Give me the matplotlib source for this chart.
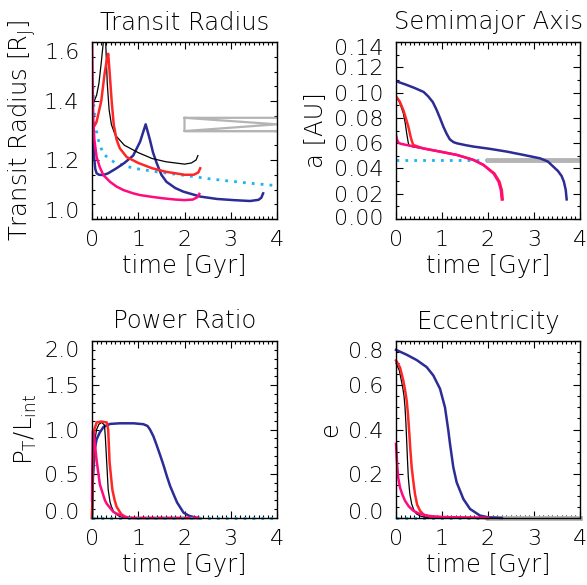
import matplotlib
matplotlib.use("Agg")
import matplotlib.pyplot as plt
from matplotlib.ticker import MultipleLocator
from matplotlib.transforms import ScaledTranslation

BLACK = "black"
RED = "#ff2626"
BLUE = "#2c2c96"
PINK = "#ff0a80"
CYAN = "#1cb4f0"
GRAY = "#b4b4b4"

# ---- Transit radius [R_J] ----
t_rad_black = [0.0, 0.05, 0.1, 0.15, 0.2, 0.245, 0.27, 0.296, 0.33, 0.37, 0.42, 0.5, 0.7, 1.0,
               1.3, 1.6, 2.0, 2.15, 2.25, 2.29]
rad_black = [1.38, 1.40, 1.42, 1.46, 1.53, 1.60, 1.66, 1.60, 1.46, 1.37, 1.32, 1.285, 1.25, 1.225,
             1.205, 1.194, 1.186, 1.19, 1.20, 1.215]
t_rad_red = [0.0, 0.05, 0.1, 0.2, 0.27, 0.32, 0.35, 0.38, 0.425, 0.47, 0.53, 0.6, 0.75, 1.0,
             1.3, 1.6, 2.0, 2.2, 2.3, 2.34]
rad_red = [1.31, 1.315, 1.33, 1.40, 1.49, 1.54, 1.56, 1.50, 1.40, 1.32, 1.27, 1.24, 1.21, 1.19,
           1.172, 1.16, 1.15, 1.15, 1.158, 1.172]
t_rad_blue = [0.0, 0.02, 0.04, 0.07, 0.1, 0.15, 0.245, 0.35, 0.53, 0.7, 0.89, 1.04, 1.16, 1.25,
              1.32, 1.4, 1.5, 1.61, 1.8, 1.97, 2.34, 2.7, 3.06, 3.42, 3.6, 3.66, 3.70]
rad_blue = [1.36, 1.30, 1.22, 1.17, 1.155, 1.15, 1.149, 1.155, 1.172, 1.19, 1.215, 1.262, 1.321, 1.27,
            1.225, 1.189, 1.15, 1.126, 1.105, 1.093, 1.076, 1.068, 1.064, 1.061, 1.065, 1.072, 1.087]
t_rad_pink = [0.0, 0.015, 0.03, 0.05, 0.1, 0.17, 0.245, 0.39, 0.53, 0.68, 0.89, 1.04, 1.3, 1.54,
              1.8, 2.0, 2.18, 2.28, 2.32]
rad_pink = [1.62, 1.45, 1.33, 1.27, 1.21, 1.175, 1.149, 1.126, 1.11, 1.098, 1.087, 1.081, 1.075, 1.07,
            1.066, 1.064, 1.066, 1.074, 1.085]
t_rad_cyan = [0.02, 0.04, 0.07, 0.1, 0.15, 0.245, 0.5, 0.9, 1.4, 2.0, 2.5, 3.0, 3.5, 4.0]
rad_cyan = [1.45, 1.38, 1.33, 1.296, 1.26, 1.22, 1.19, 1.172, 1.16, 1.148, 1.137, 1.128, 1.12, 1.113]
t_rad_gray = [4.0, 2.0, 2.0, 4.0, 2.0, 4.0, 2.0]
rad_gray = [1.343, 1.343, 1.298, 1.298, 1.298, 1.321, 1.343]

# ---- Semimajor axis [AU] ----
t_a_blue = [0.0, 0.2, 0.4, 0.6, 0.7, 0.8, 0.884, 0.96, 1.03, 1.1, 1.17, 1.25, 1.32, 1.5, 1.68,
            2.04, 2.41, 2.77, 3.13, 3.3, 3.42, 3.52, 3.6, 3.65, 3.69, 3.71]
a_blue = [0.109, 0.1065, 0.1037, 0.1005, 0.097, 0.0925, 0.0862, 0.0795, 0.073, 0.0675, 0.063,
          0.0608, 0.0599, 0.0585, 0.0573, 0.0555, 0.0533, 0.0507, 0.048, 0.0455, 0.0414, 0.038,
          0.034, 0.0295, 0.0229, 0.0155]
t_a_black = [0.0, 0.08, 0.159, 0.2, 0.232, 0.268, 0.29, 0.4, 0.6, 0.96, 1.32, 1.68, 1.9, 2.12,
             2.23, 2.28, 2.30]
a_black = [0.097, 0.092, 0.0836, 0.076, 0.0678, 0.060, 0.0578, 0.0568, 0.0557, 0.0533, 0.0507,
           0.0468, 0.0428, 0.036, 0.0295, 0.0229, 0.0155]
t_a_red = [0.0, 0.08, 0.159, 0.22, 0.268, 0.319, 0.35, 0.377, 0.42, 0.6, 0.96, 1.32, 1.68, 1.9,
           2.14, 2.25, 2.30, 2.32]
a_red = [0.097, 0.093, 0.0862, 0.079, 0.073, 0.0649, 0.061, 0.0585, 0.058, 0.0557, 0.0533, 0.0507,
         0.0468, 0.0428, 0.036, 0.0295, 0.0229, 0.0155]
t_a_pink = [0.0, 0.02, 0.05, 0.1, 0.232, 0.594, 0.956, 1.32, 1.68, 1.9, 2.12, 2.23, 2.28, 2.30]
a_pink = [0.0665, 0.063, 0.0605, 0.0595, 0.0585, 0.0559, 0.0533, 0.0507, 0.0468, 0.0428, 0.036,
          0.0295, 0.0229, 0.0155]
t_a_cyan = [0.0, 2.0]
a_cyan = [0.0467, 0.0467]
t_a_gray = [2.0, 4.0]
a_gray = [0.0467, 0.0467]

# ---- Power ratio P_T / L_int ----
t_p_blue = [0.0, 0.02, 0.06, 0.1, 0.17, 0.25, 0.39, 0.6, 0.9, 1.11, 1.2, 1.254, 1.33, 1.4, 1.48,
            1.55, 1.62, 1.69, 1.77, 1.84, 1.98, 2.1, 2.2, 2.3]
p_blue = [0.0, 0.45, 0.78, 0.89, 0.968, 1.03, 1.063, 1.07, 1.07, 1.06, 1.04, 1.0, 0.92, 0.82, 0.70,
          0.59, 0.47, 0.36, 0.26, 0.175, 0.06, 0.025, 0.01, 0.0]
t_p_black = [0.0, 0.02, 0.05, 0.1, 0.15, 0.21, 0.27, 0.29, 0.318, 0.35, 0.39, 0.42, 0.47, 0.53,
             0.62, 0.75, 2.3]
p_black = [0.0, 0.5, 0.85, 1.0, 1.06, 1.08, 1.05, 0.9, 0.63, 0.32, 0.18, 0.13, 0.07, 0.04, 0.01, 0.0, 0.0]
t_p_red = [0.0, 0.02, 0.05, 0.1, 0.2, 0.32, 0.35, 0.38, 0.44, 0.49, 0.53, 0.6, 0.64, 0.72, 0.82, 2.32]
p_red = [0.0, 0.6, 1.0, 1.08, 1.09, 1.08, 1.0, 0.63, 0.32, 0.2, 0.13, 0.07, 0.04, 0.015, 0.0, 0.0]
t_p_pink = [0.0, 0.02, 0.04, 0.06, 0.1, 0.17, 0.28, 0.32, 0.46, 0.53, 0.71, 0.9, 2.3]
p_pink = [0.2, 0.98, 0.93, 0.85, 0.65, 0.38, 0.2, 0.16, 0.07, 0.05, 0.01, 0.0, 0.0]
t_p_cyan = [0.0, 4.0]
p_cyan = [0.0, 0.0]

# ---- Eccentricity ----
t_e_blue = [0.0, 0.232, 0.449, 0.667, 0.812, 0.957, 1.065, 1.138, 1.174, 1.246, 1.319, 1.464,
            1.609, 1.826, 2.007, 2.3]
e_blue = [0.76, 0.738, 0.714, 0.682, 0.644, 0.584, 0.50, 0.395, 0.335, 0.229, 0.161, 0.086,
          0.041, 0.011, 0.003, 0.0]
t_e_red = [0.0, 0.087, 0.159, 0.2, 0.232, 0.26, 0.29, 0.315, 0.341, 0.38, 0.413, 0.46, 0.522, 0.6,
           0.739, 2.0]
e_red = [0.712, 0.681, 0.621, 0.575, 0.531, 0.47, 0.38, 0.30, 0.229, 0.16, 0.108, 0.06, 0.033,
         0.015, 0.006, 0.0]
t_e_black = [0.0, 0.072, 0.145, 0.175, 0.196, 0.215, 0.232, 0.25, 0.268, 0.3, 0.341, 0.4, 0.449,
             0.55, 0.667, 2.0]
e_black = [0.70, 0.667, 0.591, 0.55, 0.50, 0.43, 0.35, 0.26, 0.183, 0.11, 0.063, 0.03, 0.018,
           0.007, 0.003, 0.0]
t_e_pink = [0.0, 0.015, 0.029, 0.05, 0.087, 0.14, 0.196, 0.28, 0.377, 0.5, 0.667, 0.85, 1.03, 2.0]
e_pink = [0.335, 0.28, 0.229, 0.18, 0.138, 0.105, 0.078, 0.052, 0.033, 0.02, 0.011, 0.006, 0.003, 0.0]
t_e_cyan = [0.0, 4.0]
e_cyan = [0.0, 0.0]
t_e_gray = [2.0, 4.0]
e_gray = [0.0, 0.0]

plt.rcParams["font.family"] = "DejaVu Sans"
plt.rcParams["font.weight"] = "light"
plt.rcParams["font.size"] = 16
plt.rcParams["axes.titlesize"] = 17.5
plt.rcParams["axes.labelsize"] = 17.5
plt.rcParams["axes.titleweight"] = "light"
plt.rcParams["axes.labelweight"] = "light"
plt.rcParams["mathtext.default"] = "regular"

fig = plt.figure(figsize=(5.87, 5.85), dpi=100)
W, H = 587.0, 585.0


def make_axes(left, top, right, bottom):
    return fig.add_axes([left / W, 1 - bottom / H, (right - left) / W, (bottom - top) / H])


def style(ax, title, ylabel, ylim, ymajor, yminor, yfmt, bottom_px=7, top_px=9):
    ax.set_xlim(0, 4)
    ax.set_ylim(*ylim)
    ax.set_xticks([0, 1, 2, 3, 4])
    ax.xaxis.set_minor_locator(MultipleLocator(0.1))
    ticks = []
    v = ylim[0]
    while v <= ylim[1] + 1e-9:
        ticks.append(round(v, 6))
        v += ymajor
    ax.set_yticks(ticks)
    ax.set_yticklabels([yfmt.format(t) for t in ticks])
    ax.yaxis.set_minor_locator(MultipleLocator(yminor))
    ax.tick_params(which="both", direction="in", top=True, right=True, width=0.8)
    ax.tick_params(which="major", length=5, pad=9)
    ax.tick_params(which="minor", length=2.5)
    ax.tick_params(axis="x", which="major", pad=8)
    for s in ax.spines.values():
        s.set_linewidth(1.0)
    ax.set_title(title, pad=9)
    ax.set_xlabel("time [Gyr]", labelpad=3)
    ax.set_ylabel(ylabel, labelpad=4)
    # IDL-style: the end labels sit inside the axis range
    labs = ax.get_yticklabels()
    labs[0].set_transform(labs[0].get_transform()
                          + ScaledTranslation(0, bottom_px / 100, fig.dpi_scale_trans))
    labs[-1].set_transform(labs[-1].get_transform()
                           + ScaledTranslation(0, -top_px / 100, fig.dpi_scale_trans))


# Transit Radius
ax1 = make_axes(92, 42, 277, 219)
ax1.plot(t_rad_cyan, rad_cyan, color=CYAN, lw=2, ls=(0, (1, 2.2)))
ax1.plot(t_rad_gray, rad_gray, color=GRAY, lw=1.6)
ax1.plot(t_rad_blue, rad_blue, color=BLUE, lw=1.8)
ax1.plot(t_rad_black, rad_black, color=BLACK, lw=0.9)
ax1.plot(t_rad_red, rad_red, color=RED, lw=1.8)
ax1.plot(t_rad_pink, rad_pink, color=PINK, lw=1.8)
style(ax1, "Transit Radius", "Transit Radius [R$_J$]", (1.0, 1.6), 0.2, 0.05, "{:.1f}",
      bottom_px=9, top_px=9)

# Semimajor Axis
ax2 = make_axes(396, 42, 580, 219)
ax2.plot(t_a_cyan, a_cyan, color=CYAN, lw=2, ls=(0, (1, 2.2)))
ax2.plot(t_a_gray, a_gray, color=GRAY, lw=3.5)
ax2.plot(t_a_blue, a_blue, color=BLUE, lw=1.8)
ax2.plot(t_a_black, a_black, color=BLACK, lw=0.9)
ax2.plot(t_a_red, a_red, color=RED, lw=1.8)
ax2.plot(t_a_pink, a_pink, color=PINK, lw=1.8)
style(ax2, "Semimajor Axis", "a [AU]", (0.0, 0.14), 0.02, 0.01, "{:.2f}",
      bottom_px=2, top_px=5)

# Power Ratio
ax3 = make_axes(92, 341, 277, 518)
ax3.plot(t_p_blue, p_blue, color=BLUE, lw=1.8, clip_on=False)
ax3.plot(t_p_black, p_black, color=BLACK, lw=0.9, clip_on=False)
ax3.plot(t_p_red, p_red, color=RED, lw=1.8, clip_on=False)
ax3.plot(t_p_pink, p_pink, color=PINK, lw=1.8, clip_on=False)
ax3.plot(t_p_cyan, p_cyan, color=CYAN, lw=2, ls=(0, (1, 2.2)), clip_on=False)
style(ax3, "Power Ratio", "P$_T$/L$_{int}$", (0.0, 2.0), 0.5, 0.1, "{:.1f}",
      bottom_px=7, top_px=8)

# Eccentricity
ax4 = make_axes(396, 341, 580, 518)
ax4.plot(t_e_cyan, e_cyan, color=CYAN, lw=2, ls=(0, (1, 2.2)), clip_on=False)
ax4.plot(t_e_gray, e_gray, color=GRAY, lw=3.5, clip_on=False)
ax4.plot(t_e_blue, e_blue, color=BLUE, lw=1.8, clip_on=False)
ax4.plot(t_e_black, e_black, color=BLACK, lw=0.9, clip_on=False)
ax4.plot(t_e_red, e_red, color=RED, lw=1.8, clip_on=False)
ax4.plot(t_e_pink, e_pink, color=PINK, lw=1.8, clip_on=False)
style(ax4, "Eccentricity", "e", (0.0, 0.8), 0.2, 0.05, "{:.1f}",
      bottom_px=7, top_px=9)

fig.savefig("out.png", dpi=100)
